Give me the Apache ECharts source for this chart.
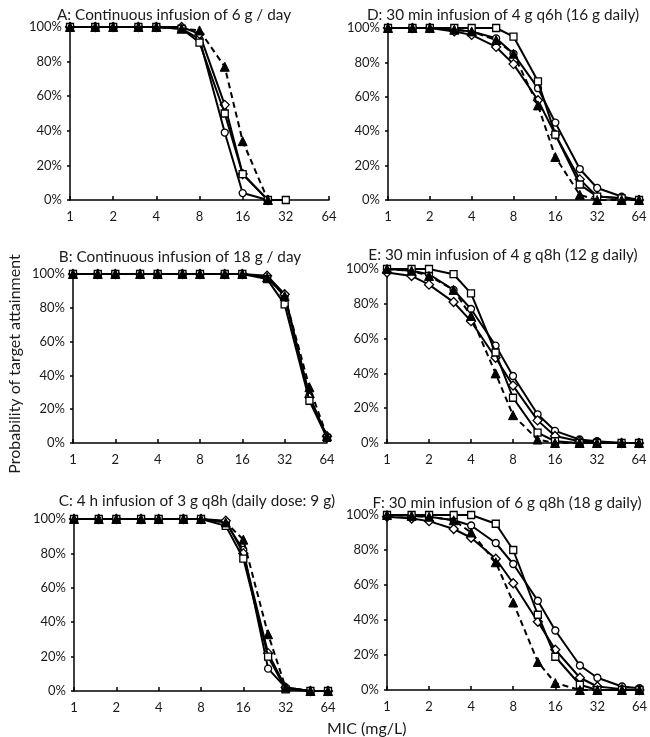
<!DOCTYPE html>
<html>
<head>
<meta charset="utf-8">
<script src="https://cdn.jsdelivr.net/npm/echarts@6/dist/echarts.min.js"></script>
<style>html,body{margin:0;padding:0;background:#fff;}#c{width:650px;height:737px;}</style>
</head>
<body>
<div id="c"></div>
<script>
// MIC values (mg/L)
var mic = [1, 1.5, 2, 3, 4, 6, 8, 12, 16, 24, 32, 48, 64];
var xTicks = [1, 2, 4, 8, 16, 32, 64];
var yTicks = [0, 20, 40, 60, 80, 100];

var titles = [
  'A: Continuous infusion of 6 g / day',
  'B: Continuous infusion of 18 g / day',
  'C: 4 h infusion of 3 g q8h (daily dose: 9 g)',
  'D: 30 min infusion of 4 g q6h (16 g daily)',
  'E: 30 min infusion of 4 g q8h (12 g daily)',
  'F: 30 min infusion of 6 g q8h (18 g daily)'
];

// Panel A
var aCircle   = [100,100,100,100,100,99,93,39,4,0,null,null,null];
var aDiamond  = [100,100,100,100,100,100,96,55,15,0,null,null,null];
var aSquare   = [100,100,100,100,100,99,91,50,15,0,0,null,null];
var aTriangle = [100,100,100,100,100,99,98,77,34,0,null,null,null];
// Panel B
var bCircle   = [100,100,100,100,100,100,100,100,100,98,87,28,3];
var bDiamond  = [100,100,100,100,100,100,100,100,100,99,88,27,4];
var bSquare   = [100,100,100,100,100,100,100,100,100,97,82,25,3];
var bTriangle = [100,100,100,100,100,100,100,100,100,98,87,33,4];
// Panel C
var cCircle   = [100,100,100,100,100,100,100,98,82,13,2,0,0];
var cDiamond  = [100,100,100,100,100,100,100,99,80,22,2,0,0];
var cSquare   = [100,100,100,100,100,100,100,96,77,20,1,0,0];
var cTriangle = [100,100,100,100,100,100,100,98,88,33,2,0,0];
// Panel D
var dCircle   = [100,100,100,99,98,94,85,65,45,18,7,2,0];
var dDiamond  = [100,100,100,98,96,89,79,58,38,12,2,1,0];
var dSquare   = [100,100,100,100,100,100,95,69,38,9,2,1,0];
var dTriangle = [100,100,100,99,98,93,85,55,25,3,0,0,0];
// Panel E
var eCircle   = [100,99,97,88,77,56,38.5,16.5,7,2,1,0,0];
var eDiamond  = [98,96,91,81,70,49,33,13,4,1,0.5,0,0];
var eSquare   = [100,100,100,97,86,52,26,6,1,0,0,0,0];
var eTriangle = [100,99,96,88,73,40,16,2,0,0,0,0,0];
// Panel F
var fCircle   = [100,99.5,99,97,94,84,72,51,34,14,7,2,1];
var fDiamond  = [99,98,96.5,92,87,75,61,39,23,7,2,0.5,0];
var fSquare   = [100,100,100,100,100,95,80,43,19,3,0,0,0];
var fTriangle = [100,99.5,99,97,90,73,50,16,4,0,0,0,0];

var panels = [
  {t: titles[0], c: aCircle, d: aDiamond, s: aSquare, tr: aTriangle, g: {left: 70, top: 27, width: 259, height: 173}, tx: 169, ty: 3},
  {t: titles[1], c: bCircle, d: bDiamond, s: bSquare, tr: bTriangle, g: {left: 73, top: 274, width: 254, height: 169}, tx: 175, ty: 245},
  {t: titles[2], c: cCircle, d: cDiamond, s: cSquare, tr: cTriangle, g: {left: 74, top: 519, width: 254, height: 172}, tx: 192, ty: 489},
  {t: titles[3], c: dCircle, d: dDiamond, s: dSquare, tr: dTriangle, g: {left: 388, top: 28, width: 251, height: 172}, tx: 498, ty: 3},
  {t: titles[4], c: eCircle, d: eDiamond, s: eSquare, tr: eTriangle, g: {left: 387, top: 269, width: 252, height: 174}, tx: 498, ty: 243},
  {t: titles[5], c: fCircle, d: fDiamond, s: fSquare, tr: fTriangle, g: {left: 387, top: 515, width: 255, height: 175}, tx: 502, ty: 491}
];

var FONT = 'Lato';
var TXT = '#1a1a1a';

function pairs(vals) {
  var out = [];
  for (var i = 0; i < mic.length; i++) {
    if (vals[i] !== null && vals[i] !== undefined) out.push([mic[i], vals[i]]);
  }
  return out;
}

var grids = [], xAxes = [], yAxes = [], series = [], titleOpts = [];
panels.forEach(function (p, i) {
  grids.push(Object.assign({containLabel: false}, p.g));
  titleOpts.push({
    text: p.t, left: p.tx, top: p.ty, textAlign: 'center',
    textStyle: {fontFamily: FONT, fontSize: 15.3, fontWeight: 'normal', color: TXT}
  });
  xAxes.push({
    gridIndex: i, type: 'log', logBase: 2, min: 1, max: 64,
    axisLine: {show: true, onZero: false, lineStyle: {color: '#000', width: 1.5}},
    axisTick: {show: true, inside: true, length: 4, lineStyle: {color: '#000', width: 1.5}},
    minorTick: {show: false},
    splitLine: {show: false},
    axisLabel: {fontFamily: FONT, fontSize: 13, color: TXT, margin: 10,
      formatter: function (v) { return String(Math.round(v)); }}
  });
  yAxes.push({
    gridIndex: i, type: 'value', min: 0, max: 100, interval: 20,
    axisLine: {show: true, lineStyle: {color: '#000', width: 1.5}},
    axisTick: {show: true, length: 3, lineStyle: {color: '#000', width: 1.5}},
    splitLine: {show: false},
    axisLabel: {fontFamily: FONT, fontSize: 13, color: TXT, margin: 8,
      formatter: '{value}%'}
  });
  var common = {type: 'line', xAxisIndex: i, yAxisIndex: i, showAllSymbol: true, animation: false, connectNulls: false};
  series.push(Object.assign({}, common, {
    name: 'circle', data: pairs(p.c), symbol: 'circle', symbolSize: 7,
    lineStyle: {color: '#000', width: 2},
    itemStyle: {color: '#fff', borderColor: '#000', borderWidth: 1.3}, z: 3
  }));
  series.push(Object.assign({}, common, {
    name: 'diamond', data: pairs(p.d), symbol: 'diamond', symbolSize: 9,
    lineStyle: {color: '#000', width: 2},
    itemStyle: {color: '#fff', borderColor: '#000', borderWidth: 1.3}, z: 4
  }));
  series.push(Object.assign({}, common, {
    name: 'square', data: pairs(p.s), symbol: 'rect', symbolSize: 7,
    lineStyle: {color: '#000', width: 2},
    itemStyle: {color: '#fff', borderColor: '#000', borderWidth: 1.3}, z: 5
  }));
  series.push(Object.assign({}, common, {
    name: 'triangle', data: pairs(p.tr), symbol: 'triangle', symbolSize: 9,
    lineStyle: {color: '#000', width: 2, type: [6, 4]},
    itemStyle: {color: '#000', borderColor: '#000', borderWidth: 1}, z: 6
  }));
});

var chart = echarts.init(document.getElementById('c'), null, {renderer: 'canvas'});
chart.setOption({
  backgroundColor: '#fff',
  animation: false,
  title: titleOpts,
  grid: grids,
  xAxis: xAxes,
  yAxis: yAxes,
  series: series,
  graphic: [
    {type: 'text', left: 327, top: 721, style: {text: 'MIC (mg/L)', font: '16px Lato', fill: TXT}},
    {type: 'text', x: 15, y: 364, rotation: Math.PI / 2, style: {text: 'Probability of target attainment', font: '16px Lato', fill: TXT, align: 'center', verticalAlign: 'middle'}}
  ]
});
</script>
</body>
</html>
